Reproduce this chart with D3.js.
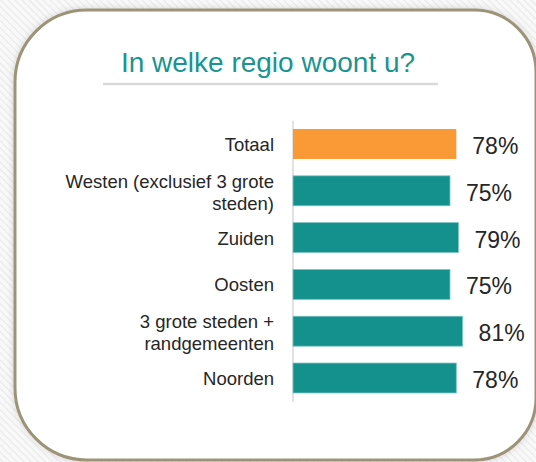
<!DOCTYPE html>
<html>
<head>
<meta charset="utf-8">
<script src="https://cdn.jsdelivr.net/npm/d3@7"></script>
<style>
  html, body { margin: 0; padding: 0; background: #fff; }
  svg { display: block; font-family: "Liberation Sans", Arial, sans-serif; }
</style>
</head>
<body>
<div id="chart"></div>
<script>
// data
var categories = ["Totaal", "Westen (exclusief 3 grote\nsteden)", "Zuiden", "Oosten", "3 grote steden +\nrandgemeenten", "Noorden"];
var values = [78, 75, 79, 75, 81, 78];
var highlight = ["Totaal"];
var title = "In welke regio woont u?";

var width = 536, height = 462;

var svg = d3.select("#chart").append("svg")
    .attr("width", width)
    .attr("height", height);

var defs = svg.append("defs");

// hatched background outside the card
var pat = defs.append("pattern")
    .attr("id", "hatch")
    .attr("width", 5).attr("height", 5)
    .attr("patternUnits", "userSpaceOnUse")
    .attr("patternTransform", "rotate(-45)");
pat.append("rect").attr("width", 5).attr("height", 5).attr("fill", "#f8f8f8");
pat.append("line").attr("x1", 0).attr("y1", 0).attr("x2", 0).attr("y2", 5)
    .attr("stroke", "#e8e8e8").attr("stroke-width", 2);

var shadow = defs.append("filter").attr("id", "shadow")
    .attr("x", "-10%").attr("y", "-10%").attr("width", "120%").attr("height", "120%");
shadow.append("feDropShadow")
    .attr("dx", 0).attr("dy", 0).attr("stdDeviation", 3)
    .attr("flood-color", "#000").attr("flood-opacity", 0.15);

svg.append("rect")
    .attr("width", width).attr("height", height)
    .attr("fill", "url(#hatch)");

// card with a bit bigger corners on the left than on the right
var L = 15, T = 10, R = 536, B = 460, rl = 72, rr = 62;
var p = d3.path();
p.moveTo(L + rl, T);
p.lineTo(R - rr, T);
p.arcTo(R, T, R, T + rr, rr);
p.lineTo(R, B - rr);
p.arcTo(R, B, R - rr, B, rr);
p.lineTo(L + rl, B);
p.arcTo(L, B, L, B - rl, rl);
p.lineTo(L, T + rl);
p.arcTo(L, T, L + rl, T, rl);
p.closePath();

svg.append("path")
    .attr("d", p.toString())
    .attr("fill", "#fff")
    .attr("stroke", "#9d9378")
    .attr("stroke-width", 3)
    .attr("filter", "url(#shadow)");

// title + underline
svg.append("text")
    .attr("x", 268).attr("y", 72)
    .attr("text-anchor", "middle")
    .attr("font-size", 28)
    .attr("fill", "#1a9490")
    .text(title);

svg.append("line")
    .attr("x1", 103).attr("x2", 438)
    .attr("y1", 84).attr("y2", 84)
    .attr("stroke", "#d9d9d9")
    .attr("stroke-width", 2.5);

// scales
var x = d3.scaleLinear()
    .domain([0, 100])
    .range([292.5, 502.5]);

var y = d3.scaleBand()
    .domain(categories)
    .range([120.6, 401.4])
    .paddingInner(0.36)
    .paddingOuter(0.18);

// vertical axis line
var yAxis = svg.append("g")
    .attr("transform", "translate(" + x(0) + ",0)")
    .call(d3.axisLeft(y).tickSize(0).tickFormat(""));
yAxis.select(".domain")
    .attr("stroke", "#d9d9d9")
    .attr("stroke-width", 1.5);

// bars
svg.append("g")
    .selectAll("rect")
    .data(categories)
    .enter()
    .append("rect")
    .attr("x", x(0) + 0.5)
    .attr("y", function (d) { return y(d); })
    .attr("width", function (d, i) { return x(values[i]) - x(0) - 0.5; })
    .attr("height", y.bandwidth())
    .attr("fill", function (d) { return highlight.indexOf(d) >= 0 ? "#f99a37" : "#14908d"; })
    .attr("stroke", function (d) { return highlight.indexOf(d) >= 0 ? "none" : "#7cc6c4"; })
    .attr("stroke-width", 0.8);

// value labels
svg.append("g")
    .selectAll("text")
    .data(categories)
    .enter()
    .append("text")
    .attr("x", function (d, i) { return x(values[i]) + 16; })
    .attr("y", function (d) { return y(d) + y.bandwidth() / 2 + 10; })
    .attr("font-size", 23)
    .attr("fill", "#262626")
    .text(function (d, i) { return values[i] + "%"; });

// category labels, possibly two lines
var lineH = 22;
var cat = svg.append("g")
    .selectAll("text")
    .data(categories)
    .enter()
    .append("text")
    .attr("text-anchor", "end")
    .attr("font-size", 18.5)
    .attr("fill", "#262626");

cat.each(function (d) {
    var lines = d.split("\n");
    var cy = y(d) + y.bandwidth() / 2 + 7 - (lines.length - 1) * lineH / 2 + (lines.length - 1) * 1;
    var t = d3.select(this);
    lines.forEach(function (l, j) {
        t.append("tspan")
            .attr("x", 274)
            .attr("y", cy + j * lineH)
            .text(l);
    });
});
</script>
</body>
</html>
